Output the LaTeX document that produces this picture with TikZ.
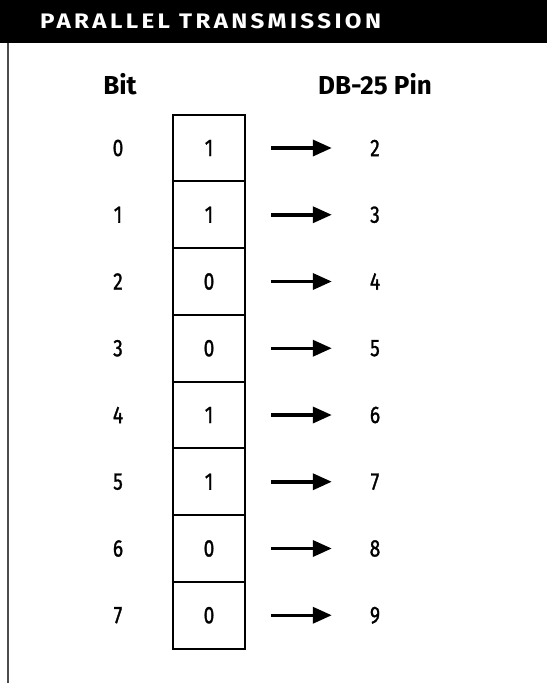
\documentclass[tikz,border=0pt]{standalone}
\usepackage{fontspec}
\setmainfont{Fira Sans}
\newfontfamily\narrowfont{Fira Sans}[FakeStretch=0.8, FakeBold=1.2]
\newfontfamily\titlefont{Fira Sans}[LetterSpace=16, FakeStretch=1.15]
\usetikzlibrary{arrows.meta, positioning}

\begin{document}
\begin{tikzpicture}[x=1pt, y=-1pt, >={Triangle[length=19pt, width=16pt]},
    cell/.style={draw, line width=1.8pt, minimum width=72pt,
                 minimum height=66.75pt, inner sep=0pt,
                 font=\narrowfont\fontsize{24}{24}\selectfont},
    num/.style={inner sep=0pt, font=\narrowfont\fontsize{24}{24}\selectfont},
    pin/.style={num, minimum width=86pt},
    head/.style={inner sep=0pt, font=\bfseries\fontsize{26}{26}\selectfont}]
  \useasboundingbox (0,0) rectangle (547,683);

  % title bar and side rule
  \fill[black] (0,0) rectangle (547,43);
  \node[anchor=west, text=white, inner sep=0pt,
        font=\titlefont\bfseries\fontsize{21}{21}\selectfont] (title)
    at (40,21) {PARALLEL TRANSMISSION};
  \draw[line width=2pt, black!70] (8,43) -- (8,683);

  % column heads
  \node[head] (bithead) at (120,84) {Bit};
  \node[head] (pinhead) at (375,84) {DB-25 Pin};

  % one row per bit
  \foreach \v/\p [count=\i from 0] in {1/2, 1/3, 0/4, 0/5, 1/6, 1/7, 0/8, 0/9} {
    \node[num] (bit\i) at (118, {148+66.75*\i}) {\i};
    \node[cell] (cell\i) at (209, {148+66.75*\i}) {\v};
    \node[pin] (pin\i) at (375, {148+66.75*\i}) {\p};
    \draw[->, line width=3.5pt, shorten <=25pt] (cell\i.east) -- (pin\i.west);
  }
\end{tikzpicture}
\end{document}
